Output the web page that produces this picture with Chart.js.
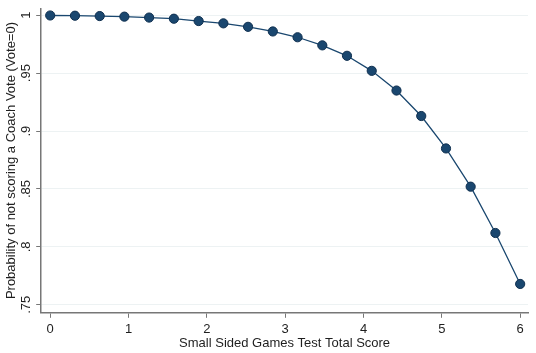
<!DOCTYPE html>
<html lang="en">
<head>
  <meta charset="UTF-8" />
  <title>Probability of not scoring a Coach Vote</title>
  <script src="https://cdn.jsdelivr.net/npm/chart.js"></script>
  <style>
    html, body {
      margin: 0;
      padding: 0;
      background: #ffffff;
    }
    #wrap {
      width: 536px;
      height: 353px;
    }
  </style>
</head>
<body>
  <div id="wrap"><canvas id="probChart"></canvas></div>

  <script>
    // SSG test total score (20 evenly spaced points 0..6)
    const scores = [0, 0.316, 0.632, 0.947, 1.263, 1.579, 1.895, 2.211, 2.526, 2.842,
                    3.158, 3.474, 3.789, 4.105, 4.421, 4.737, 5.053, 5.368, 5.684, 6];
    // predicted probability of Vote=0
    const probs = [0.9998, 0.9996, 0.9993, 0.9988, 0.998, 0.997, 0.995, 0.993, 0.990, 0.986,
                   0.981, 0.974, 0.965, 0.952, 0.935, 0.913, 0.885, 0.852, 0.812, 0.768];

    const xTicks = [0, 1, 2, 3, 4, 5, 6];
    const yTicks = [0.75, 0.8, 0.85, 0.9, 0.95, 1];
    const yTickLabels = ['.75', '.8', '.85', '.9', '.95', '1'];

    const navy = '#1a476f';
    const axisGray = '#777777';
    const textColor = '#1e1e1e';
    const font = { family: 'Arial, "Liberation Sans", sans-serif', size: 13 };

    new Chart(document.getElementById('probChart'), {
      type: 'line',
      data: {
        datasets: [{
          data: scores.map((x, i) => ({ x: x, y: probs[i] })),
          borderColor: navy,
          borderWidth: 1.3,
          backgroundColor: navy,
          pointBackgroundColor: navy,
          pointBorderColor: '#0f2f4f',
          pointBorderWidth: 1,
          pointRadius: 4.6,
          tension: 0,
          fill: false
        }]
      },
      options: {
        responsive: true,
        maintainAspectRatio: false,
        animation: false,
        layout: { padding: { top: 0, right: 8, left: 4, bottom: 2 } },
        plugins: {
          legend: { display: false },
          tooltip: { enabled: false }
        },
        scales: {
          x: {
            type: 'linear',
            min: -0.115,
            max: 6.1,
            afterBuildTicks: s => { s.ticks = xTicks.map(v => ({ value: v })); },
            grid: {
              drawOnChartArea: false,
              tickLength: 5,
              tickColor: axisGray,
              tickWidth: 1
            },
            border: { color: axisGray, width: 1.5 },
            ticks: {
              color: textColor,
              font: font,
              padding: 4,
              maxRotation: 0,
              callback: v => String(v)
            },
            title: {
              display: true,
              text: 'Small Sided Games Test Total Score',
              color: textColor,
              font: font,
              padding: { top: -6, bottom: 0 }
            }
          },
          y: {
            min: 0.7431,
            max: 1.006,
            afterBuildTicks: s => { s.ticks = yTicks.map(v => ({ value: v })); },
            grid: {
              color: '#edf2f3',
              lineWidth: 1,
              tickLength: 5,
              tickColor: axisGray,
              tickWidth: 1
            },
            border: { color: axisGray, width: 1.5 },
            ticks: {
              color: textColor,
              font: font,
              padding: 0.5,
              minRotation: 90,
              maxRotation: 90,
              crossAlign: 'center',
              callback: v => yTickLabels[yTicks.indexOf(v)]
            },
            title: {
              display: true,
              text: 'Probability of not scoring a Coach Vote (Vote=0)',
              color: textColor,
              font: font,
              padding: { top: 0, bottom: 0 }
            }
          }
        }
      }
    });
  </script>
</body>
</html>
